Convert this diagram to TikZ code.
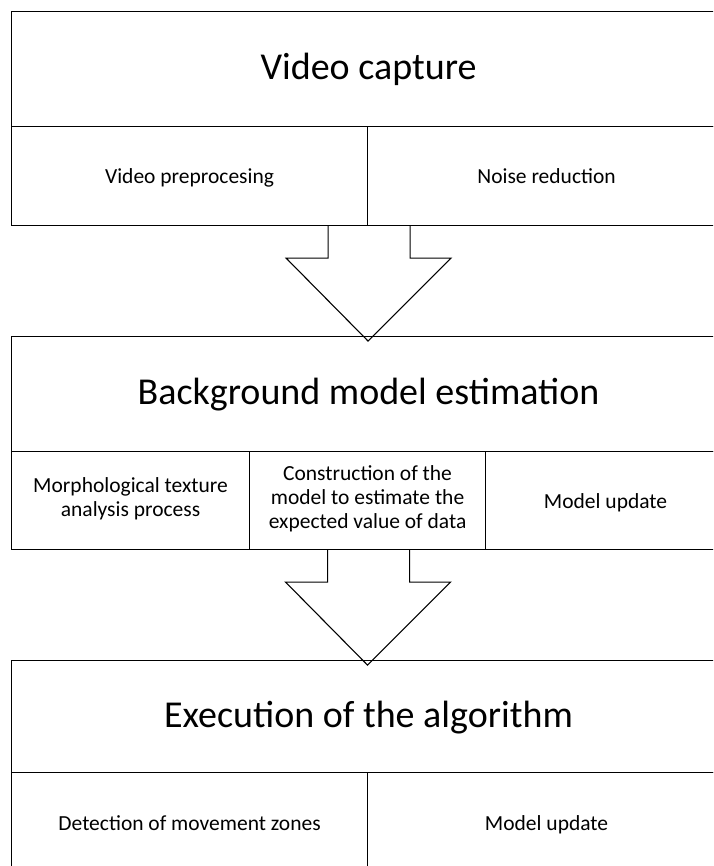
\documentclass[tikz,border=0pt]{standalone}
\usepackage{fontspec}
\setmainfont{Carlito}
\begin{document}
\begin{tikzpicture}[x=1pt,y=-1pt,line width=1.1pt,
  head/.style={draw, anchor=north west, minimum width=714pt, minimum height=115pt,
    inner sep=0pt, font=\fontsize{38}{44}\selectfont,
    execute at begin node={\rule{0pt}{34.5pt}},
    execute at end node={\rule[-13pt]{0pt}{0pt}}},
  part/.style={draw, anchor=north west, minimum height=99pt, inner sep=0pt,
    align=center, font=\fontsize{21.5}{23.6}\selectfont,
    execute at begin node={\rule{0pt}{22pt}},
    execute at end node={\rule[-7pt]{0pt}{0pt}}},
  block/.style={draw, line join=miter}]
\useasboundingbox (0,0) rectangle (713,866);
\clip (0,0) rectangle (713,866);

\node[head] (cap) at (11,11) {Video capture};
\node[part, minimum width=356pt] (vp) at (11,126) {Video preprocesing};
\node[part, minimum width=358pt] (nr) at (367,126) {Noise reduction};

\node[head] (bg) at (11,336) {Background model estimation};
\node[part, minimum width=238pt, minimum height=98pt] (mt) at (11,451) {Morphological texture\\analysis process};
\node[part, minimum width=236pt, minimum height=98pt] (cm) at (249,451) {Construction of the\\model to estimate the\\expected value of data};
\node[part, minimum width=240pt, minimum height=98pt] (mu) at (485,451) {Model update};

\node[head, minimum height=112pt] (ex) at (11,660) {Execution of the algorithm};
\node[part, minimum width=356pt, minimum height=100pt] (dm) at (11,772) {Detection of movement zones};
\node[part, minimum width=358pt, minimum height=100pt] (up) at (367,772) {Model update};

% block arrows
\path[block] ([xshift=-40pt]vp.south east) -- ++(0,32) -- ++(-42,0) -- ++(82,83)
  -- ++(83,-83) -- ++(-41,0) -- ++(0,-32);
\path[block] ([xshift=-40pt]cm.south) -- ++(0,32) -- ++(-42,0) -- ++(82,83)
  -- ++(83,-83) -- ++(-41,0) -- ++(0,-32);
\end{tikzpicture}
\end{document}
